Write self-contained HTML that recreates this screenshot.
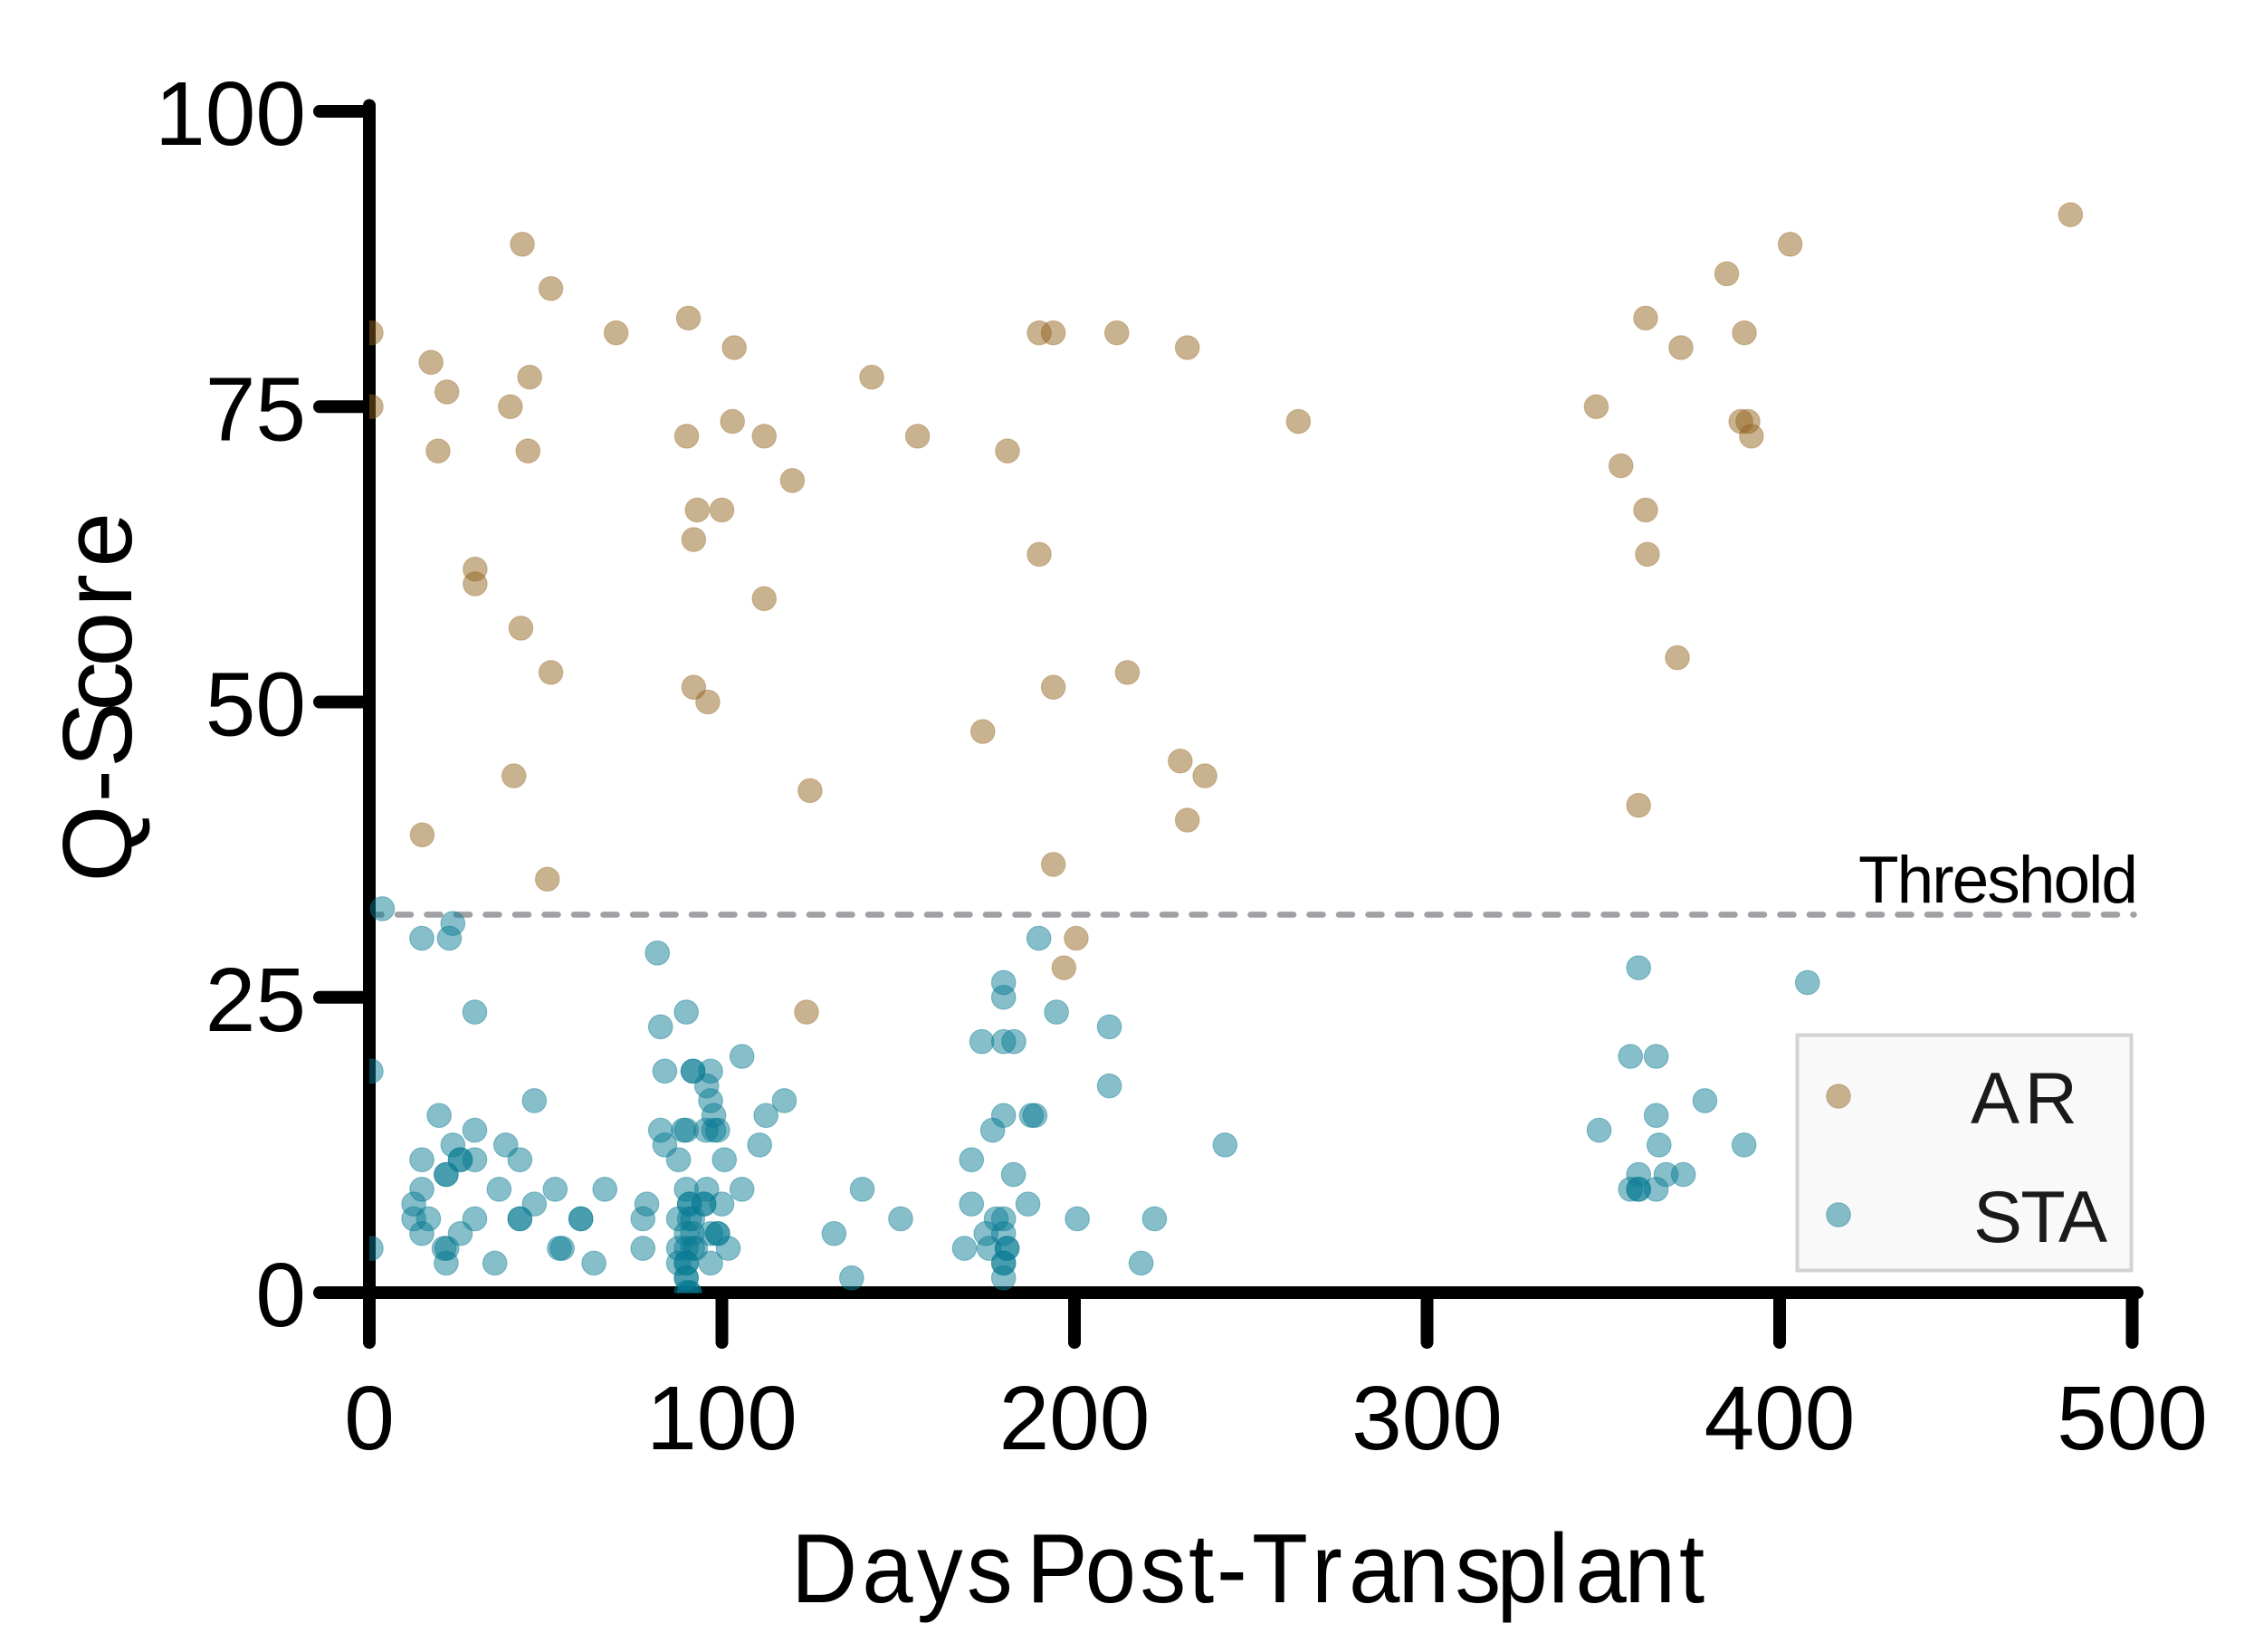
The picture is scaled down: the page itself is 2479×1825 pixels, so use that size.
<!DOCTYPE html>
<html lang="en">
<head>
<meta charset="utf-8">
<title>Q-Score vs Days Post-Transplant</title>
<style>
html,body{margin:0;padding:0;background:#fff;}
#chart{display:block;width:2479px;height:1825px;}
text{font-family:"Liberation Sans",Arial,sans-serif;fill:#000;}
</style>
</head>
<body>
<svg id="chart" xmlns="http://www.w3.org/2000/svg" width="2479" height="1825" viewBox="0 0 2479 1825">
  <defs>
    <clipPath id="plot-clip"><rect x="408" y="0" width="2071" height="1428.5"></rect></clipPath>
  </defs>
  <rect x="0" y="0" width="2479" height="1825" fill="#ffffff"></rect>
  <g id="threshold-layer"></g>
  <g id="axes-layer"></g>
  <g id="ticks-layer"></g>
  <text x="2053" y="997" font-size="73" textLength="309" lengthAdjust="spacing">Threshold</text>
  <rect x="1985.5" y="1143.5" width="369" height="260" fill="#f9f9f9" stroke="#d3d3d3" stroke-width="4"></rect>
  <g id="points-layer" clip-path="url(#plot-clip)"></g>
  <g id="legend-layer"></g>
  <text x="2177" y="1241" font-size="81" style="fill:#1a1a1a" textLength="118" lengthAdjust="spacing">AR</text>
  <text x="2180" y="1372" font-size="81" style="fill:#1a1a1a" textLength="148" lengthAdjust="spacing">STA</text>
  <text transform="scale(0.93 1)" x="939.8 1024 1089.2 1148.4 1182.8 1219.4 1288.9 1354.3 1411.8 1445.2 1487.1 1558.1 1602.2 1660.9 1728.5 1777.9 1839.2 1871.5 1929.6 1994.6" y="1770" font-size="109">Days Post-Transplant</text>
  <text transform="translate(145,970) rotate(-90)" x="-4.5 83.5 122 184.5 233.5 299.5 343.5" y="0" font-size="109">Q-Score</text>
</svg>
<script>
const xTicks = [0, 100, 200, 300, 400, 500];
const yTicks = [0, 25, 50, 75, 100];
const thresholdValue = 32;

const arDays = [0.5, 0.5, 43.4, 51.5, 70, 90.5, 103.5, 17.5, 22, 45.5, 40, 19.5, 45, 90, 103, 112, 120, 93, 100, 92, 30, 30, 112, 43, 51.5, 92, 96, 41, 125, 15, 50.5, 124, 142.5, 155.5, 181, 190, 194, 212, 232, 263.5, 190, 194, 215, 174, 230, 237, 232, 194, 200.5, 197, 348, 355, 362, 372, 385, 390, 389, 391, 392, 403, 482.5, 362, 362.5, 371, 360];
const arScores = [81.25, 75, 88.75, 85, 81.25, 82.5, 80, 78.75, 76.25, 77.5, 75, 71.25, 71.25, 72.5, 73.75, 72.5, 68.75, 66.25, 66.25, 63.75, 61.25, 60, 58.75, 56.25, 52.5, 51.25, 50, 43.75, 42.5, 38.75, 35, 23.75, 77.5, 72.5, 71.25, 81.25, 81.25, 81.25, 80, 73.75, 62.5, 51.25, 52.5, 47.5, 45, 43.75, 40, 36.25, 30, 27.5, 75, 70, 82.5, 80, 86.25, 81.25, 73.75, 73.75, 72.5, 88.75, 91.25, 66.25, 62.5, 53.75, 41.25];

const staDays = [3.7, 23.7, 14.9, 22.7, 81.7, 29.9, 89.9, 82.6, 105.7, 83.8, 91.8, 91.8, 96.8, 95.7, 0.5, 96.8, 117.7, 46.8, 97.7, 112.5, 19.8, 82.6, 29.9, 89.1, 89.9, 95.5, 97.7, 98.8, 23.7, 38.7, 83.8, 110.7, 14.9, 25.8, 25.8, 29.9, 42.7, 87.7, 100.7, 21.8, 21.8, 14.9, 36.8, 52.7, 66.8, 89.9, 95.7, 105.7, 139.8, 12.6, 46.8, 78.7, 90.8, 90.8, 94.9, 94.9, 100, 12.6, 16.8, 29.9, 42.7, 42.7, 60, 60, 77.6, 87.7, 90.8, 91.7, 150.7, 14.9, 25.8, 89.9, 91.7, 96.8, 98.8, 98.8, 131.8, 0.5, 21.2, 22, 53.9, 54.7, 77.6, 87.7, 89.9, 91.7, 92.5, 101.8, 21.8, 35.6, 63.7, 87.7, 89.9, 89.9, 96.8, 136.8, 89.9, 89.9, 89.9, 90.8, 90.8, 189.9, 179.9, 179.9, 194.9, 209.9, 173.7, 179.9, 182.8, 209.9, 179.9, 187.8, 188.8, 176.8, 242.7, 170.8, 182.7, 170.8, 186.8, 177.8, 179.9, 200.8, 222.7, 174.9, 179.9, 168.8, 175.8, 180.9, 180.9, 179.9, 179.9, 218.9, 179.9, 360, 407.9, 357.7, 365, 378.8, 365, 348.8, 365.8, 389.9, 360, 367.8, 372.7, 357.7, 360, 360, 365];
const staScores = [32.5, 31.25, 30, 30, 28.75, 23.75, 23.75, 22.5, 20, 18.75, 18.75, 18.75, 18.75, 17.5, 18.75, 16.25, 16.25, 16.25, 15, 15, 15, 13.75, 13.75, 13.75, 13.75, 13.75, 13.75, 13.75, 12.5, 12.5, 12.5, 12.5, 11.25, 11.25, 11.25, 11.25, 11.25, 11.25, 11.25, 10, 10, 8.75, 8.75, 8.75, 8.75, 8.75, 8.75, 8.75, 8.75, 7.5, 7.5, 7.5, 7.5, 7.5, 7.5, 7.5, 7.5, 6.25, 6.25, 6.25, 6.25, 6.25, 6.25, 6.25, 6.25, 6.25, 6.25, 6.25, 6.25, 5, 5, 5, 5, 5, 5, 5, 5, 3.75, 3.75, 3.75, 3.75, 3.75, 3.75, 3.75, 3.75, 3.75, 3.75, 3.75, 2.5, 2.5, 2.5, 2.5, 2.5, 2.5, 2.5, 1.25, 1.25, 1.25, 0, 0, 0, 30, 26.25, 25, 23.75, 22.5, 21.25, 21.25, 21.25, 17.5, 15, 15, 15, 13.75, 12.5, 11.25, 10, 7.5, 7.5, 6.25, 6.25, 6.25, 6.25, 5, 5, 3.75, 3.75, 3.75, 3.75, 2.5, 2.5, 2.5, 1.25, 27.5, 26.25, 20, 20, 16.25, 15, 13.75, 12.5, 12.5, 10, 10, 10, 8.75, 8.75, 8.75, 8.75];

const NS = 'http://www.w3.org/2000/svg';
const X0 = 408, Y0 = 1428, PX_PER_DAY = 3.895, PX_PER_SCORE = 13.05;
function xScale(v) { return X0 + v * PX_PER_DAY; }
function yScale(v) { return Y0 - v * PX_PER_SCORE; }
function svgEl(tag, parent, attrs) {
  const el = document.createElementNS(NS, tag);
  for (const k in attrs) el.setAttribute(k, attrs[k]);
  parent.appendChild(el);
  return el;
}

const AR_STYLE = { fill: 'rgba(145,97,27,0.49)', stroke: 'rgba(145,97,27,0.35)', 'stroke-width': 1 };
const STA_STYLE = { fill: 'rgba(9,123,147,0.49)', stroke: 'rgba(9,123,147,0.45)', 'stroke-width': 1 };
const DOT_R = 13.3;

const thresholdLayer = document.getElementById('threshold-layer');
const axesLayer = document.getElementById('axes-layer');
const ticksLayer = document.getElementById('ticks-layer');
const pointsLayer = document.getElementById('points-layer');
const legendLayer = document.getElementById('legend-layer');

const thresholdLine = svgEl('line', thresholdLayer, {
  x1: 406.5, x2: 2357.5, y1: yScale(thresholdValue), y2: yScale(thresholdValue),
  stroke: '#a1a1a5', 'stroke-width': 6.6, 'stroke-dasharray': '15 17.5', 'stroke-linecap': 'round'
});



const xAxisLine = svgEl('line', axesLayer, {
  x1: xScale(0), x2: xScale(500) + 5.5, y1: Y0, y2: Y0, stroke: '#000', 'stroke-width': 14, 'stroke-linecap': 'round'
});



const yAxisLine = svgEl('line', axesLayer, {
  x1: X0, x2: X0, y1: Y0, y2: yScale(100) - 6.5, stroke: '#000', 'stroke-width': 14, 'stroke-linecap': 'round'
});



xTicks.forEach(function (t) {
  const tick = svgEl('line', ticksLayer, {
    x1: xScale(t), x2: xScale(t), y1: Y0, y2: 1483, stroke: '#000', 'stroke-width': 14, 'stroke-linecap': 'round'
  });
  
  
  const label = svgEl('text', ticksLayer, { x: xScale(t), y: 1601, 'font-size': 100, 'text-anchor': 'middle' });
  label.textContent = String(t);
  
  
});

yTicks.forEach(function (t) {
  const tick = svgEl('line', ticksLayer, {
    x1: X0, x2: 353, y1: yScale(t), y2: yScale(t), stroke: '#000', 'stroke-width': 14, 'stroke-linecap': 'round'
  });
  
  
  const label = svgEl('text', ticksLayer, { x: 338, y: yScale(t) + 37, 'font-size': 100, 'text-anchor': 'end' });
  label.textContent = String(t);
  
  
});

arDays.forEach(function (d, i) {
  const dot = svgEl('circle', pointsLayer, Object.assign({ cx: xScale(d), cy: yScale(arScores[i]), r: DOT_R }, AR_STYLE));
  
  
});

staDays.forEach(function (d, i) {
  const dot = svgEl('circle', pointsLayer, Object.assign({ cx: xScale(d), cy: yScale(staScores[i]), r: DOT_R }, STA_STYLE));
  
  
});

const legendAr = svgEl('circle', legendLayer, Object.assign({ cx: 2031, cy: 1211, r: DOT_R }, AR_STYLE));


const legendSta = svgEl('circle', legendLayer, Object.assign({ cx: 2031, cy: 1342, r: DOT_R }, STA_STYLE));


</script>
</body>
</html>
